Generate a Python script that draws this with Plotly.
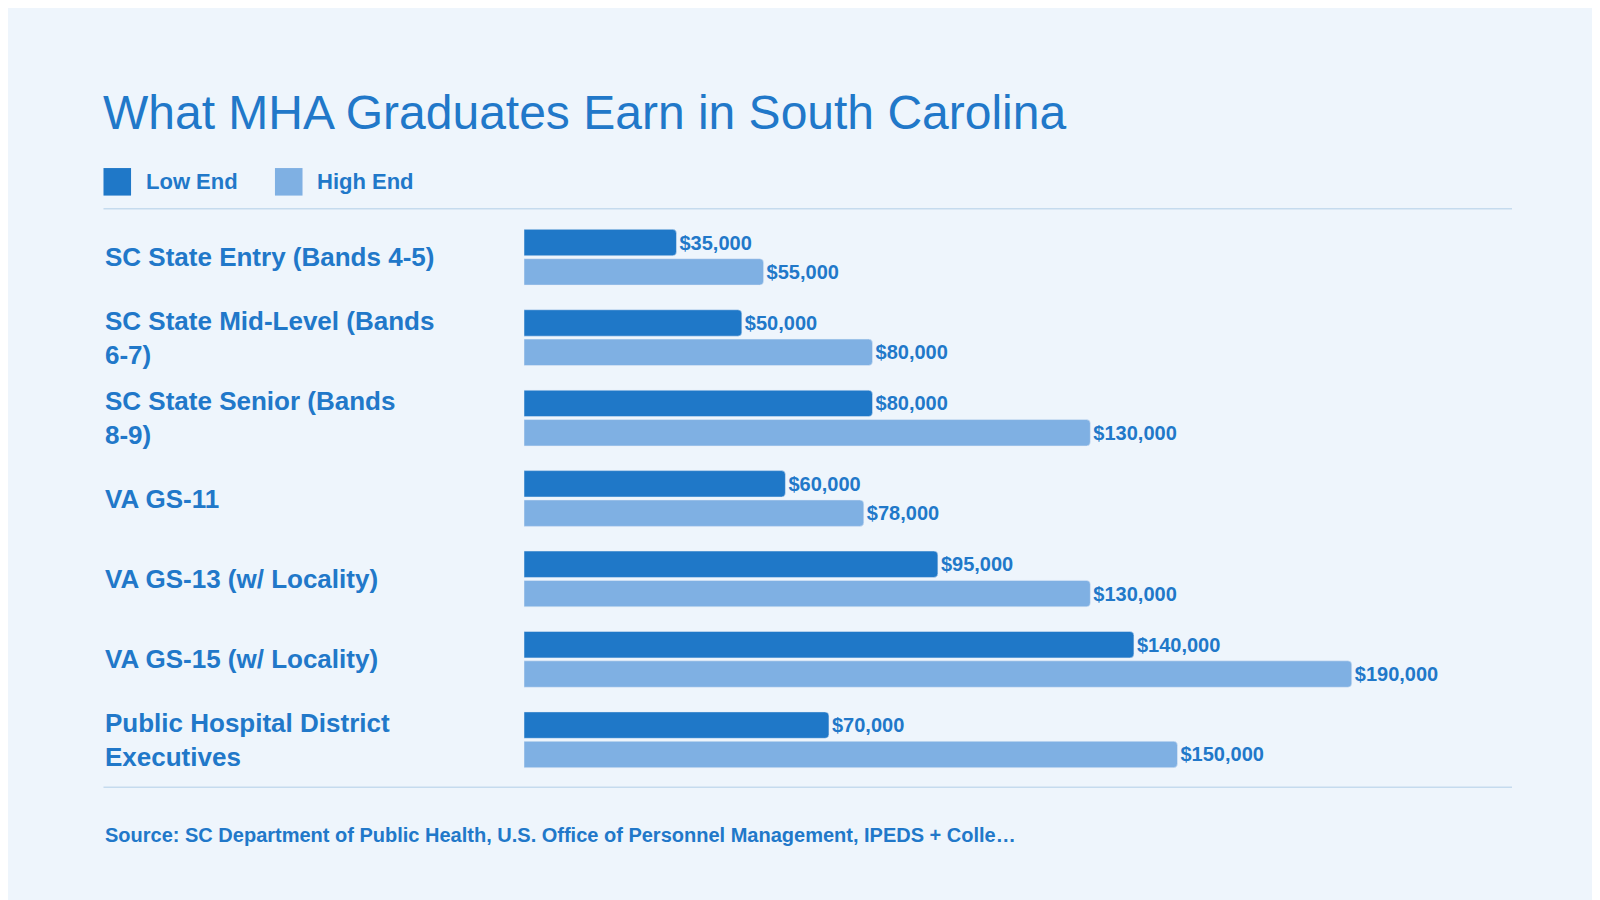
import plotly.graph_objects as go

W, H = 1600, 900
S = W / 1568  # reference was photographed at 1568 wide

categories = [
    "SC State Entry (Bands 4-5)",
    "SC State Mid-Level (Bands<br>6-7)",
    "SC State Senior (Bands<br>8-9)",
    "VA GS-11",
    "VA GS-13 (w/ Locality)",
    "VA GS-15 (w/ Locality)",
    "Public Hospital District<br>Executives",
]
low_end = [35000, 50000, 80000, 60000, 95000, 140000, 70000]
high_end = [55000, 80000, 130000, 78000, 130000, 190000, 150000]

LOW_C = "#1F78C8"
HIGH_C = "#7FB0E3"
TXT_C = "#2178C9"
BG = "#EEF5FC"
FONT = "Liberation Sans, Arial, sans-serif"

ml, mr = 506 * S, W - 1474 * S
mt, mb = 205 * S, H - 757 * S
pw = W - ml - mr
ph = H - mt - mb

def px_x(x):
    return (x * S - ml) / pw

def px_y(y):
    return 1 - (y * S - mt) / ph

ys = list(range(len(categories)))

fig = go.Figure()
for name, vals, color in [("Low End", low_end, LOW_C), ("High End", high_end, HIGH_C)]:
    fig.add_trace(go.Bar(
        y=ys, x=vals, orientation="h", name=name,
        marker=dict(color=color, cornerradius=4),
        text=[f"${v:,.0f}" for v in vals],
        textposition="outside", cliponaxis=False,
        textfont=dict(family=FONT, size=20, color=TXT_C, weight="bold"),
        showlegend=False,
    ))

annotations = [
    dict(text="What MHA Graduates Earn in South Carolina", xref="paper", yref="paper",
         x=px_x(92), y=px_y(103), xanchor="left", yanchor="middle", showarrow=False,
         font=dict(family=FONT, size=48, color=TXT_C)),
    dict(text="Source: SC Department of Public Health, U.S. Office of Personnel Management, IPEDS + Colle…",
         xref="paper", yref="paper", x=px_x(94), y=px_y(811), xanchor="left", yanchor="middle",
         showarrow=False, font=dict(family=FONT, size=20, color=TXT_C, weight="bold")),
]
for label, lx in [("Low End", 134), ("High End", 301)]:
    annotations.append(dict(text=label, xref="paper", yref="paper", x=px_x(lx), y=px_y(170),
                            xanchor="left", yanchor="middle", showarrow=False,
                            font=dict(family=FONT, size=22, color=TXT_C, weight="bold")))
for i, cat in enumerate(categories):
    annotations.append(dict(text=cat, xref="paper", yref="y", x=px_x(94), y=i,
                            xanchor="left", yanchor="middle", align="left", showarrow=False,
                            font=dict(family=FONT, size=26, color=TXT_C, weight="bold")))

shapes = []
for x0, color in [(94, LOW_C), (262, HIGH_C)]:
    shapes.append(dict(type="rect", xref="paper", yref="paper",
                       x0=px_x(x0), x1=px_x(x0 + 27), y0=px_y(184), y1=px_y(157),
                       fillcolor=color, line=dict(width=0)))
for yl in [197, 764]:
    shapes.append(dict(type="line", xref="paper", yref="paper",
                       x0=px_x(94), x1=px_x(1474), y0=px_y(yl), y1=px_y(yl),
                       line=dict(color="#C5DBEE", width=1.5)))

fig.update_layout(
    width=W, height=H,
    paper_bgcolor=BG, plot_bgcolor=BG,
    margin=dict(l=ml, r=mr, t=mt, b=mb, pad=0),
    barmode="group", bargap=0.27, bargroupgap=0.1,
    xaxis=dict(range=[0, 968 / 811 * 190000], visible=False),
    yaxis=dict(range=[len(categories) - 0.5, -0.5], visible=False),
    annotations=annotations, shapes=shapes,
)

fig.write_html("out.html")
